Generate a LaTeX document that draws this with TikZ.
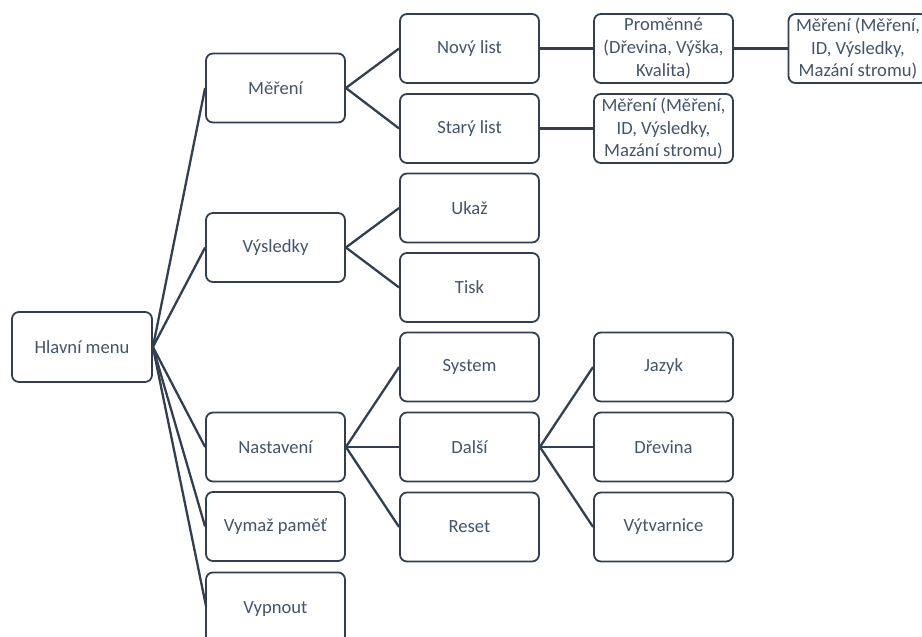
\documentclass[tikz,border=0pt]{standalone}
\usepackage{fontspec}
\setmainfont{Carlito}
\definecolor{edge}{HTML}{333F50}
\definecolor{label}{HTML}{44546A}
\begin{document}
\begin{tikzpicture}[x=1pt,y=-1pt,
  box/.style={draw=edge, line width=1.8pt, rounded corners=7pt, fill=white,
    minimum width=139pt, minimum height=69pt, inner sep=0pt,
    text=label, align=center,
    font=\fontsize{18.6pt}{22.6pt}\selectfont},
  link/.style={draw=edge, line width=2.3pt}]
\useasboundingbox (0,0) rectangle (922,637);

% root
\node[box, minimum width=140pt, minimum height=70pt] (root) at (82,347) {Hlavní menu};

% second level
\node[box] (mer)  at (275.5,88)  {Měření};
\node[box] (vys)  at (275.5,247.5) {Výsledky};
\node[box] (nas)  at (275.5,447) {Nastavení};
\node[box] (vym)  at (275.5,526.5) {Vymaž paměť};
% last box runs past the lower edge of the page
\node[box, minimum height=80pt, text height=13pt, text depth=11pt, anchor=north] (vyp) at (275.5,571.5) {Vypnout};
\coordinate (vypin) at (206,606);

% third level
\node[box] (novy)  at (469.5,48.5)  {Nový list};
\node[box] (stary) at (469.5,128.5) {Starý list};
\node[box] (ukaz)  at (469.5,208)   {Ukaž};
\node[box] (tisk)  at (469.5,287.5) {Tisk};
\node[box] (sys)   at (469.5,367)   {System};
\node[box] (dalsi) at (469.5,447)   {Další};
\node[box] (reset) at (469.5,527)   {Reset};

% fourth level
\node[box] (prom)   at (663.5,48.5)  {Proměnné\\(Dřevina, Výška,\\Kvalita)};
\node[box] (mer2)   at (663.5,128.5) {Měření (Měření,\\ID, Výsledky,\\Mazání stromu)};
\node[box] (jazyk)  at (663.5,367)   {Jazyk};
\node[box] (dreva)  at (663.5,447)   {Dřevina};
\node[box] (vytv)   at (663.5,527)   {Výtvarnice};

% fifth level
\node[box] (mer3)   at (858,48.5) {Měření (Měření,\\ID, Výsledky,\\Mazání stromu)};

% connectors
\foreach \c in {mer,vys,nas,vym} \draw[link] (root.east) -- (\c.west);
\draw[link] (root.east) -- (vypin);
\foreach \c in {novy,stary} \draw[link] (mer.east) -- (\c.west);
\foreach \c in {ukaz,tisk} \draw[link] (vys.east) -- (\c.west);
\foreach \c in {sys,dalsi,reset} \draw[link] (nas.east) -- (\c.west);
\foreach \c in {jazyk,dreva,vytv} \draw[link] (dalsi.east) -- (\c.west);
\draw[link] (novy.east) -- (prom.west);
\draw[link] (stary.east) -- (mer2.west);
\draw[link] (prom.east) -- (mer3.west);
\end{tikzpicture}
\end{document}
